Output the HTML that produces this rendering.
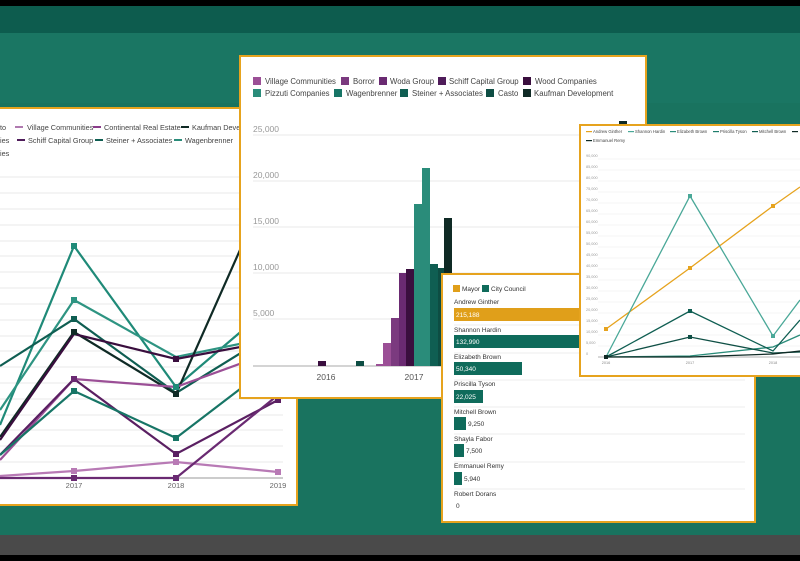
<!DOCTYPE html>
<html><head><meta charset="utf-8"><style>
html,body{margin:0;padding:0;background:#000;}
svg{display:block;font-family:"Liberation Sans",sans-serif;}
</style></head><body>
<svg width="800" height="561" viewBox="0 0 800 561" xmlns="http://www.w3.org/2000/svg">
<rect width="800" height="561" fill="#000"/>
<rect y="6" width="800" height="30" fill="#0d5c4e"/>
<rect y="33" width="800" height="503" fill="#19735f"/>
<rect y="33" width="800" height="70" fill="#1a7865" opacity="0.6"/>
<rect y="535" width="800" height="20" fill="#4a4a4a"/>

<!-- LEFT LINE CHART CARD -->
<g>
<rect x="-3" y="108" width="300" height="397" fill="#fff" stroke="#e6a31e" stroke-width="2"/>
<g font-size="7.3" fill="#444">
<text x="0" y="130">to</text>
<rect x="15" y="126" width="8" height="2" fill="#b07ab0"/><text x="27" y="130">Village Communities</text>
<rect x="93" y="126" width="8" height="2" fill="#8a3d8a"/><text x="104" y="130">Continental Real Estate</text>
<rect x="181" y="126" width="8" height="2" fill="#0f2a25"/><text x="192" y="130">Kaufman Devel</text>
<text x="0" y="143">ies</text>
<rect x="17" y="139" width="8" height="2" fill="#4f1c5a"/><text x="28" y="143">Schiff Capital Group</text>
<rect x="95" y="139" width="8" height="2" fill="#0f5e52"/><text x="106" y="143">Steiner + Associates</text>
<rect x="174" y="139" width="8" height="2" fill="#2a8c7a"/><text x="185" y="143">Wagenbrenner</text>
<text x="0" y="156">ies</text>
</g>
<g stroke="#e8e8e8" stroke-width="1">
<line x1="0" x2="283" y1="177" y2="177"/><line x1="0" x2="283" y1="193" y2="193"/>
<line x1="0" x2="283" y1="209" y2="209"/><line x1="0" x2="283" y1="225" y2="225"/>
<line x1="0" x2="283" y1="241" y2="241"/><line x1="0" x2="283" y1="256" y2="256"/>
<line x1="0" x2="283" y1="272" y2="272"/><line x1="0" x2="283" y1="288" y2="288"/>
<line x1="0" x2="283" y1="304" y2="304"/><line x1="0" x2="283" y1="320" y2="320"/>
<line x1="0" x2="283" y1="336" y2="336"/><line x1="0" x2="283" y1="351" y2="351"/>
<line x1="0" x2="283" y1="367" y2="367"/><line x1="0" x2="283" y1="383" y2="383"/>
<line x1="0" x2="283" y1="399" y2="399"/><line x1="0" x2="283" y1="415" y2="415"/>
<line x1="0" x2="283" y1="430" y2="430"/><line x1="0" x2="283" y1="446" y2="446"/>
<line x1="0" x2="283" y1="462" y2="462"/>
</g>
<line x1="0" x2="283" y1="478" y2="478" stroke="#999"/>
<g fill="none" stroke-width="2.2">
<polyline stroke="#1f8a78" points="0,425 74,246 176,387 278,300"/>
<polyline stroke="#2e9482" points="0,410 74,300 176,357 278,336"/>
<polyline stroke="#0f5e52" points="0,366 74,319 176,393 278,330"/>
<polyline stroke="#0f2a25" points="0,437 74,332 176,394 240,250"/>
<polyline stroke="#3a0e3e" points="0,440 74,334 176,359 278,340"/>
<polyline stroke="#9b4f96" points="0,460 74,379 176,387 278,350"/>
<polyline stroke="#5a1f62" points="0,455 74,379 176,454 278,400"/>
<polyline stroke="#177566" points="0,455 74,391 176,438 278,360"/>
<polyline stroke="#b87ab5" points="0,476 74,471 176,462 278,472"/>
<polyline stroke="#6a2a72" points="0,478 74,478 176,478 278,395"/>
</g>
<g>
<rect x="71" y="243" width="6" height="6" fill="#1f8a78"/><rect x="71" y="297" width="6" height="6" fill="#2e9482"/>
<rect x="71" y="316" width="6" height="6" fill="#0f5e52"/><rect x="71" y="329" width="6" height="6" fill="#0f2a25"/>
<rect x="71" y="376" width="6" height="6" fill="#6a2a72"/><rect x="71" y="388" width="6" height="6" fill="#177566"/>
<rect x="71" y="468" width="6" height="6" fill="#b87ab5"/><rect x="71" y="475" width="6" height="6" fill="#6a2a72"/>
<rect x="173" y="356" width="6" height="6" fill="#3a0e3e"/><rect x="173" y="384" width="6" height="6" fill="#1f8a78"/>
<rect x="173" y="391" width="6" height="6" fill="#0f2a25"/><rect x="173" y="435" width="6" height="6" fill="#177566"/>
<rect x="173" y="451" width="6" height="6" fill="#5a1f62"/><rect x="173" y="459" width="6" height="6" fill="#b87ab5"/>
<rect x="173" y="475" width="6" height="6" fill="#6a2a72"/><rect x="275" y="469" width="6" height="6" fill="#b87ab5"/>
<rect x="275" y="397" width="6" height="6" fill="#5a1f62"/>
</g>
<g font-size="7.5" fill="#666" text-anchor="middle">
<text x="74" y="488">2017</text><text x="176" y="488">2018</text><text x="278" y="488">2019</text>
</g>
</g>

<!-- BAR CHART CARD -->
<g>
<rect x="240" y="56" width="406" height="342" fill="#fff" stroke="#e6a31e" stroke-width="2"/>
<g font-size="7.8" fill="#444">
<rect x="253" y="77" width="8" height="8" fill="#9b4f96"/><text x="265" y="84">Village Communities</text>
<rect x="341" y="77" width="8" height="8" fill="#7b3a7f"/><text x="353" y="84">Borror</text>
<rect x="379" y="77" width="8" height="8" fill="#6a2a72"/><text x="390" y="84">Woda Group</text>
<rect x="438" y="77" width="8" height="8" fill="#4f1c5a"/><text x="449" y="84">Schiff Capital Group</text>
<rect x="523" y="77" width="8" height="8" fill="#3a0e3e"/><text x="535" y="84">Wood Companies</text>
<rect x="253" y="89" width="8" height="8" fill="#2a8c7a"/><text x="265" y="96">Pizzuti Companies</text>
<rect x="334" y="89" width="8" height="8" fill="#177566"/><text x="346" y="96">Wagenbrenner</text>
<rect x="400" y="89" width="8" height="8" fill="#0f5e52"/><text x="412" y="96">Steiner + Associates</text>
<rect x="486" y="89" width="8" height="8" fill="#0d4d43"/><text x="498" y="96">Casto</text>
<rect x="523" y="89" width="8" height="8" fill="#0f2a25"/><text x="534" y="96">Kaufman Development</text>
</g>
<g font-size="8.5" fill="#999">
<text x="253" y="132">25,000</text><text x="253" y="178">20,000</text><text x="253" y="224">15,000</text>
<text x="253" y="270">10,000</text><text x="253" y="316">5,000</text>
</g>
<g stroke="#e8e8e8">
<line x1="253" x2="640" y1="135" y2="135"/><line x1="253" x2="640" y1="181" y2="181"/>
<line x1="253" x2="640" y1="227" y2="227"/><line x1="253" x2="640" y1="273" y2="273"/>
<line x1="253" x2="640" y1="319" y2="319"/>
</g>
<line x1="253" x2="640" y1="366" y2="366" stroke="#aaa"/>
<rect x="318" y="361" width="8" height="5" fill="#3a0e3e"/>
<rect x="356" y="361" width="8" height="5" fill="#0d4d43"/>
<rect x="376" y="364" width="7" height="2" fill="#9b4f96"/>
<rect x="383" y="343" width="8" height="23" fill="#9b4f96"/>
<rect x="391" y="318" width="8" height="48" fill="#7b3a7f"/>
<rect x="399" y="273" width="7" height="93" fill="#6a2a72"/>
<rect x="406" y="269" width="8" height="97" fill="#3a0e3e"/>
<rect x="414" y="204" width="8" height="162" fill="#2a8c7a"/>
<rect x="422" y="168" width="8" height="198" fill="#2a8c7a"/>
<rect x="430" y="264" width="8" height="102" fill="#0f5e52"/>
<rect x="438" y="268" width="8" height="98" fill="#0d4d43"/>
<rect x="444" y="218" width="8" height="148" fill="#0f2a25"/>
<rect x="619" y="121" width="8" height="245" fill="#0f2a25"/>
<g font-size="8.5" fill="#555" text-anchor="middle">
<text x="326" y="380">2016</text><text x="414" y="380">2017</text>
</g>
</g>

<!-- HORIZONTAL BAR CARD -->
<g>
<rect x="442" y="274" width="313" height="248" fill="#fff" stroke="#e6a31e" stroke-width="2"/>
<g font-size="6.5" fill="#333">
<rect x="453" y="285" width="7" height="7" fill="#e09f1a"/><text x="462" y="291">Mayor</text>
<rect x="482" y="285" width="7" height="7" fill="#0f6b5b"/><text x="491" y="291">City Council</text>
<text x="454" y="304">Andrew Ginther</text>
<text x="454" y="332">Shannon Hardin</text>
<text x="454" y="359">Elizabeth Brown</text>
<text x="454" y="386">Priscilla Tyson</text>
<text x="454" y="414">Mitchell Brown</text>
<text x="454" y="441">Shayla Fabor</text>
<text x="454" y="468">Emmanuel Remy</text>
<text x="454" y="496">Robert Dorans</text>
</g>
<g stroke="#eee"><line x1="454" x2="745" y1="325" y2="325"/><line x1="454" x2="745" y1="353" y2="353"/>
<line x1="454" x2="745" y1="380" y2="380"/><line x1="454" x2="745" y1="407" y2="407"/>
<line x1="454" x2="745" y1="434" y2="434"/><line x1="454" x2="745" y1="462" y2="462"/>
<line x1="454" x2="745" y1="489" y2="489"/></g>
<rect x="454" y="308" width="150" height="13" fill="#e09f1a"/>
<rect x="454" y="335" width="150" height="13" fill="#0f6b5b"/>
<rect x="454" y="362" width="68" height="13" fill="#0f6b5b"/>
<rect x="454" y="390" width="29" height="13" fill="#0f6b5b"/>
<rect x="454" y="417" width="12" height="13" fill="#0f6b5b"/>
<rect x="454" y="444" width="10" height="13" fill="#0f6b5b"/>
<rect x="454" y="472" width="8" height="13" fill="#0f6b5b"/>
<g font-size="6.5" fill="#fff">
<text x="456" y="317">215,188</text><text x="456" y="344">132,990</text><text x="456" y="371">50,340</text><text x="456" y="399">22,025</text>
</g>
<g font-size="6.5" fill="#333">
<text x="468" y="426">9,250</text><text x="466" y="453">7,500</text><text x="464" y="481">5,940</text><text x="456" y="508">0</text>
</g>
</g>

<!-- RIGHT LINE CHART CARD -->
<g>
<rect x="580" y="125" width="225" height="251" fill="#fff" stroke="#e6a31e" stroke-width="2"/>
<g font-size="4.2" fill="#444">
<rect x="586" y="131" width="6" height="1.2" fill="#e6a31e"/><text x="593" y="133">Andrew Ginther</text>
<rect x="628" y="131" width="6" height="1.2" fill="#4aa898"/><text x="635" y="133">Shannon Hardin</text>
<rect x="670" y="131" width="6" height="1.2" fill="#2a8c7a"/><text x="677" y="133">Elizabeth Brown</text>
<rect x="713" y="131" width="6" height="1.2" fill="#1f7d6c"/><text x="720" y="133">Priscilla Tyson</text>
<rect x="752" y="131" width="6" height="1.2" fill="#0f5e52"/><text x="759" y="133">Mitchell Brown</text>
<rect x="792" y="131" width="6" height="1.2" fill="#0f2a25"/>
<rect x="586" y="140" width="6" height="1.2" fill="#0f2a25"/><text x="593" y="142">Emmanuel Remy</text>
</g>
<g font-size="3.8" fill="#999">
<text x="586" y="157">90,000</text><text x="586" y="168">85,000</text><text x="586" y="179">80,000</text>
<text x="586" y="190">75,000</text><text x="586" y="201">70,000</text><text x="586" y="212">65,000</text>
<text x="586" y="223">60,000</text><text x="586" y="234">55,000</text><text x="586" y="245">50,000</text>
<text x="586" y="256">45,000</text><text x="586" y="267">40,000</text><text x="586" y="278">35,000</text>
<text x="586" y="289">30,000</text><text x="586" y="300">25,000</text><text x="586" y="311">20,000</text>
<text x="586" y="322">15,000</text><text x="586" y="333">10,000</text><text x="586" y="344">5,000</text>
<text x="586" y="355">0</text>
</g>
<g stroke="#eee" stroke-width="0.6">
<line x1="598" x2="800" y1="159" y2="159"/><line x1="598" x2="800" y1="170" y2="170"/><line x1="598" x2="800" y1="181" y2="181"/>
<line x1="598" x2="800" y1="192" y2="192"/><line x1="598" x2="800" y1="203" y2="203"/><line x1="598" x2="800" y1="214" y2="214"/>
<line x1="598" x2="800" y1="225" y2="225"/><line x1="598" x2="800" y1="236" y2="236"/><line x1="598" x2="800" y1="247" y2="247"/>
<line x1="598" x2="800" y1="258" y2="258"/><line x1="598" x2="800" y1="269" y2="269"/><line x1="598" x2="800" y1="280" y2="280"/>
<line x1="598" x2="800" y1="291" y2="291"/><line x1="598" x2="800" y1="302" y2="302"/><line x1="598" x2="800" y1="313" y2="313"/>
<line x1="598" x2="800" y1="324" y2="324"/><line x1="598" x2="800" y1="335" y2="335"/><line x1="598" x2="800" y1="346" y2="346"/>
</g>
<line x1="598" x2="800" y1="357" y2="357" stroke="#999" stroke-width="0.8"/>
<g fill="none" stroke-width="1.3">
<polyline stroke="#e6a31e" points="606,329 690,268 773,206 800,187"/>
<polyline stroke="#4aa898" points="606,357 690,196 773,336 800,300"/>
<polyline stroke="#2a8c7a" points="606,357 690,356 773,347 800,335"/>
<polyline stroke="#0f5e52" points="606,357 690,311 773,351 800,320"/>
<polyline stroke="#0f4f45" points="606,357 690,337 773,353 800,352"/>
<polyline stroke="#0f2a25" points="606,357 690,357 773,354 800,351"/>
</g>
<g>
<rect x="604" y="327" width="4" height="4" fill="#e6a31e"/><rect x="688" y="266" width="4" height="4" fill="#e6a31e"/>
<rect x="771" y="204" width="4" height="4" fill="#e6a31e"/><rect x="688" y="194" width="4" height="4" fill="#4aa898"/>
<rect x="771" y="334" width="4" height="4" fill="#4aa898"/><rect x="688" y="309" width="4" height="4" fill="#0f5e52"/>
<rect x="688" y="335" width="4" height="4" fill="#0f4f45"/><rect x="604" y="355" width="4" height="4" fill="#0f2a25"/>
</g>
<g font-size="3.8" fill="#888" text-anchor="middle">
<text x="606" y="364">2016</text><text x="690" y="364">2017</text><text x="773" y="364">2018</text>
</g>
</g>
</svg>
</body></html>
